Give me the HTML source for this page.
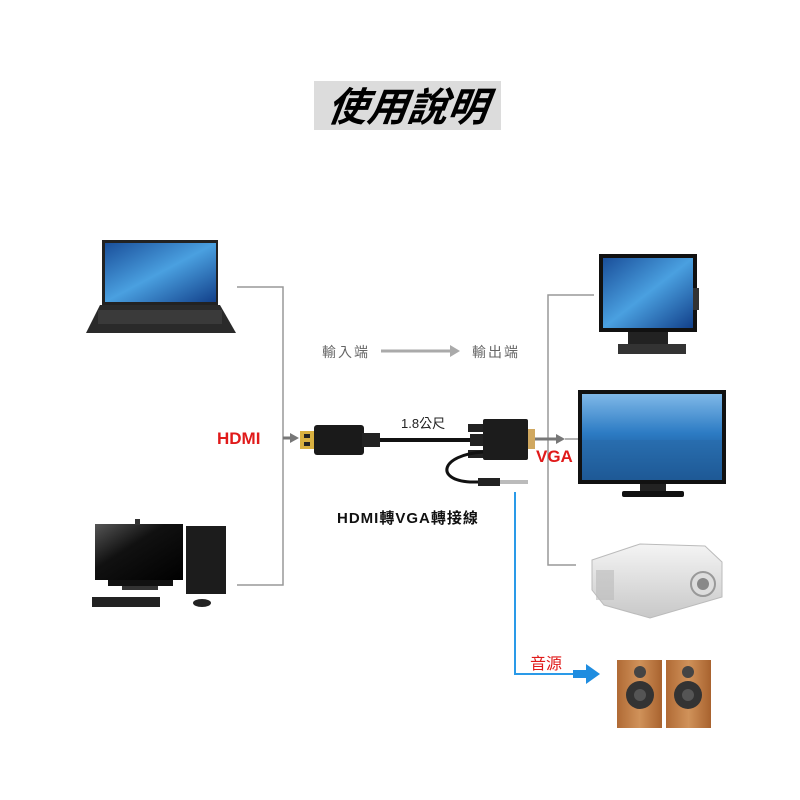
<!DOCTYPE html>
<html><head><meta charset="utf-8"><style>
html,body{margin:0;padding:0;background:#fff;width:800px;height:800px;overflow:hidden}
text{font-family:"Liberation Sans","Noto Sans CJK TC",sans-serif}
</style></head><body>
<svg width="800" height="800" viewBox="0 0 800 800" xmlns="http://www.w3.org/2000/svg">
<defs>
<linearGradient id="scr" x1="0" y1="0" x2="1" y2="1"><stop offset="0" stop-color="#1a4f9a"/><stop offset=".5" stop-color="#4aa0e0"/><stop offset="1" stop-color="#12408a"/></linearGradient>
<linearGradient id="sea" x1="0" y1="0" x2="0" y2="1"><stop offset="0" stop-color="#7fb8e8"/><stop offset=".45" stop-color="#2d7cc4"/><stop offset="1" stop-color="#0d3f7a"/></linearGradient>
<linearGradient id="dsk" x1="0" y1="0" x2="1" y2="1"><stop offset="0" stop-color="#555"/><stop offset=".4" stop-color="#111"/><stop offset="1" stop-color="#000"/></linearGradient>
<linearGradient id="wood" x1="0" y1="0" x2="1" y2="0"><stop offset="0" stop-color="#b06a35"/><stop offset=".5" stop-color="#d0925a"/><stop offset="1" stop-color="#a8622e"/></linearGradient>
<linearGradient id="proj" x1="0" y1="0" x2="0" y2="1"><stop offset="0" stop-color="#f4f4f4"/><stop offset="1" stop-color="#c8c8c8"/></linearGradient>
</defs>
<rect x="314" y="81" width="187" height="49" fill="#dcdcdc"/>
<text x="407" y="121" font-size="40" font-weight="bold" font-style="italic" text-anchor="middle" fill="#000" transform="skewX(-8) translate(16,0)">使用說明</text>

<polyline points="237,287 283,287 283,585 237,585" fill="none" stroke="#999" stroke-width="1.5"/>
<line x1="283" y1="438" x2="292" y2="438" stroke="#777" stroke-width="3"/>
<polygon points="290,433 299,438 290,443" fill="#777"/>
<text x="217" y="444" font-size="17" font-weight="bold" fill="#e01a1a">HDMI</text>

<polyline points="594,295 548,295 548,565 576,565" fill="none" stroke="#999" stroke-width="1.5"/>
<line x1="535" y1="439" x2="558" y2="439" stroke="#777" stroke-width="3"/>
<polygon points="556,434 565,439 556,444" fill="#777"/>
<line x1="565" y1="439" x2="580" y2="439" stroke="#999" stroke-width="1.5"/>
<text x="536" y="462" font-size="17" font-weight="bold" fill="#e01a1a">VGA</text>

<polyline points="515,492 515,674 575,674" fill="none" stroke="#2a9ae8" stroke-width="2"/>
<rect x="573" y="670" width="15" height="8" fill="#1f8de0"/>
<polygon points="586,664 600,674 586,684" fill="#1f8de0"/>
<text x="530" y="669" font-size="16" fill="#e01a1a">音源</text>

<text x="322" y="357" font-size="14" fill="#666" letter-spacing="2">輸入端</text>
<line x1="381" y1="351" x2="452" y2="351" stroke="#aaa" stroke-width="3"/>
<polygon points="450,345 460,351 450,357" fill="#aaa"/>
<text x="472" y="357" font-size="14" fill="#666" letter-spacing="2">輸出端</text>
<text x="401" y="428" font-size="13" fill="#222">1.8公尺</text>
<text x="337" y="523" font-size="15" font-weight="bold" fill="#111" letter-spacing="1">HDMI轉VGA轉接線</text>

<rect x="300" y="431" width="16" height="18" fill="#d8b040"/>
<rect x="304" y="434" width="6" height="4" fill="#222"/><rect x="304" y="442" width="6" height="4" fill="#222"/>
<rect x="314" y="425" width="50" height="30" rx="3" fill="#1a1a1a"/>
<rect x="362" y="433" width="18" height="14" fill="#222"/>
<line x1="380" y1="440" x2="470" y2="440" stroke="#111" stroke-width="4"/>
<rect x="468" y="424" width="16" height="8" fill="#222"/><rect x="468" y="450" width="16" height="8" fill="#222"/>
<rect x="470" y="434" width="14" height="12" fill="#222"/>
<rect x="483" y="419" width="45" height="41" rx="2" fill="#1c1c1c"/>
<rect x="528" y="429" width="7" height="20" fill="#d0a860"/>
<path d="M483,452 C440,455 435,480 470,482 L480,482" fill="none" stroke="#111" stroke-width="3"/>
<rect x="478" y="478" width="22" height="8" fill="#222"/>
<rect x="500" y="480" width="28" height="4" fill="#bbb"/>

<path d="M102,240 H218 V305 H102 Z" fill="#222"/>
<rect x="105" y="243" width="111" height="59" fill="url(#scr)"/>
<path d="M100,305 H220 L236,333 H86 Z" fill="#2a2a2a"/>
<rect x="98" y="310" width="124" height="14" fill="#3a3a3a"/>

<rect x="95" y="524" width="88" height="56" fill="url(#dsk)"/>
<rect x="135" y="519" width="5" height="6" fill="#333"/>
<rect x="108" y="580" width="65" height="6" fill="#111"/>
<rect x="122" y="586" width="36" height="4" fill="#333"/>
<rect x="186" y="526" width="40" height="68" fill="#1c1c1c"/>
<rect x="92" y="597" width="68" height="10" fill="#222"/>
<ellipse cx="202" cy="603" rx="9" ry="4" fill="#222"/>

<rect x="599" y="254" width="98" height="78" fill="#111"/>
<rect x="603" y="258" width="90" height="70" fill="url(#scr)"/>
<rect x="693" y="288" width="6" height="22" fill="#333"/>
<rect x="628" y="332" width="40" height="12" fill="#222"/>
<rect x="618" y="344" width="68" height="10" fill="#333"/>

<rect x="578" y="390" width="148" height="94" fill="#111"/>
<rect x="582" y="394" width="140" height="86" fill="url(#sea)"/>
<rect x="582" y="440" width="140" height="40" fill="#2a6aa8" opacity=".6"/>
<rect x="640" y="484" width="26" height="8" fill="#222"/>
<rect x="622" y="491" width="62" height="6" rx="2" fill="#111"/>

<path d="M592,560 L640,544 L705,546 L722,562 L722,597 L650,618 L604,605 L592,590 Z" fill="url(#proj)" stroke="#bbb"/>
<rect x="596" y="570" width="18" height="30" fill="#bbb" opacity=".6"/>
<circle cx="703" cy="584" r="12" fill="#ddd" stroke="#999" stroke-width="2"/>
<circle cx="703" cy="584" r="6" fill="#888"/>

<rect x="617" y="660" width="45" height="68" fill="url(#wood)"/>
<rect x="666" y="660" width="45" height="68" fill="url(#wood)"/>
<circle cx="640" cy="672" r="6" fill="#444"/><circle cx="640" cy="695" r="14" fill="#333"/><circle cx="640" cy="695" r="6" fill="#555"/>
<circle cx="688" cy="672" r="6" fill="#444"/><circle cx="688" cy="695" r="14" fill="#333"/><circle cx="688" cy="695" r="6" fill="#555"/>
</svg>
</body></html>
